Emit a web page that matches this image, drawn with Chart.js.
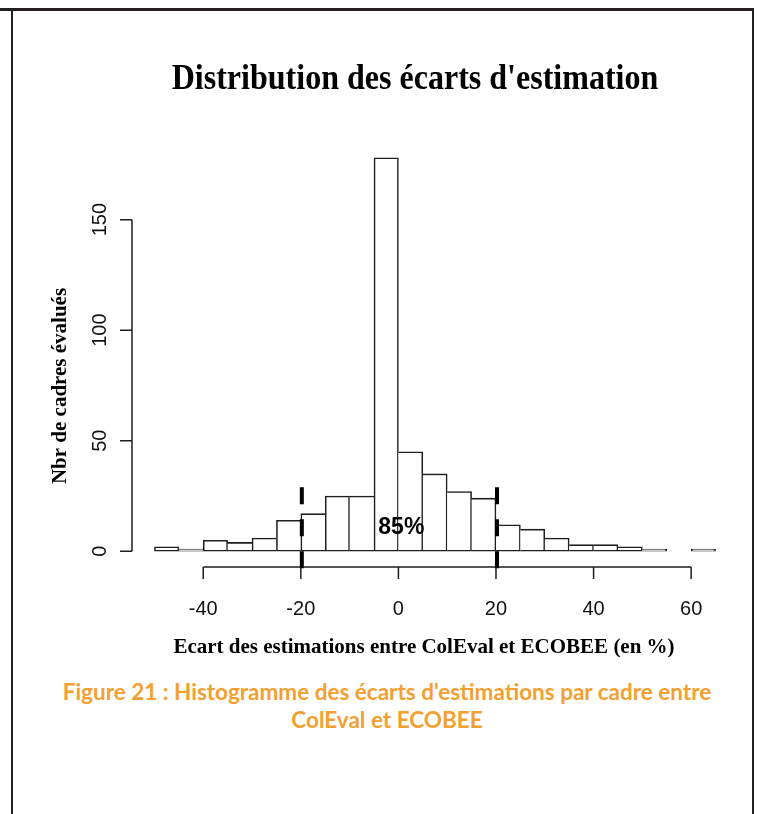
<!DOCTYPE html>
<html lang="fr">
<head>
  <meta charset="UTF-8">
  <title>Distribution des écarts d'estimation</title>
  <style>
    body {
      margin: 0;
      background: #fff;
      width: 757px;
      height: 814px;
      position: relative;
      overflow: hidden;
    }
    .frame { position: absolute; background: #231f20; }
    #frameTop { left: 0; top: 8px; width: 754px; height: 3px; }
    #frameLeft { left: 11px; top: 8px; width: 2px; height: 806px; }
    #frameRight { left: 752px; top: 8px; width: 2px; height: 806px; }
    #wrap { position: absolute; left: 0; top: 0; width: 757px; height: 670px; }
    #caption {
      position: absolute;
      left: 10px;
      width: 754px;
      top: 678px;
      text-align: center;
      font-family: Lato, "Open Sans", sans-serif;
      font-weight: bold;
      font-size: 22.5px;
      line-height: 28px;
      color: #f3a033;
    }
  </style>
</head>
<body>
  <div class="frame" id="frameTop"></div>
  <div class="frame" id="frameLeft"></div>
  <div class="frame" id="frameRight"></div>
  <div id="wrap"><canvas id="chart" width="757" height="670"></canvas></div>
  <div id="caption">Figure 21 : Histogramme des écarts d'estimations par cadre entre<br>ColEval et ECOBEE</div>

  <script src="https://cdn.jsdelivr.net/npm/chart.js"></script>
  <script>
    // histogram bins (width 5 %) and counts
    const breaks = [-50, -45, -40, -35, -30, -25, -20, -15, -10, -5, 0, 5, 10, 15, 20, 25, 30, 35, 40, 45, 50, 55, 60, 65];
    const counts = [2, 1, 5, 4, 6, 14, 17, 25, 25, 178, 45, 35, 27, 24, 12, 10, 6, 3, 3, 2, 1, 0, 1];
    const xTicks = [-40, -20, 0, 20, 40, 60];
    const yTicks = [0, 50, 100, 150];
    const cutoffs = [-20, 20];
    const shareText = '85%';

    const title = "Distribution des écarts d'estimation";
    const xTitle = 'Ecart des estimations entre ColEval et ECOBEE (en %)';
    const yTitle = 'Nbr de cadres évalués';

    const LINE = '#1e1e1e';
    const BW = 1.6;

    // R style axes, titles and the dashed +/-20% markers
    const rPlot = {
      id: 'rPlot',
      afterDraw(chart) {
        const c = chart.ctx;
        const area = chart.chartArea;
        const xs = chart.scales.x, ys = chart.scales.y;
        c.save();
        c.strokeStyle = LINE;
        c.fillStyle = '#000';
        c.lineWidth = 1.5;

        // x axis
        const ay = area.bottom;
        c.beginPath();
        c.moveTo(xs.getPixelForValue(xTicks[0]), ay);
        c.lineTo(xs.getPixelForValue(xTicks[xTicks.length - 1]), ay);
        xTicks.forEach(v => {
          const px = xs.getPixelForValue(v);
          c.moveTo(px, ay);
          c.lineTo(px, ay + 12);
        });
        c.stroke();
        c.fillStyle = '#111';
        c.font = '20px "Liberation Sans", Arial, sans-serif';
        c.textAlign = 'center';
        c.textBaseline = 'alphabetic';
        xTicks.forEach(v => c.fillText(String(v), xs.getPixelForValue(v), 615));

        // y axis
        const ax = area.left;
        c.beginPath();
        c.moveTo(ax, ys.getPixelForValue(yTicks[0]));
        c.lineTo(ax, ys.getPixelForValue(yTicks[yTicks.length - 1]));
        yTicks.forEach(v => {
          const py = ys.getPixelForValue(v);
          c.moveTo(ax, py);
          c.lineTo(ax - 12, py);
        });
        c.stroke();
        yTicks.forEach(v => {
          c.save();
          c.translate(106, ys.getPixelForValue(v));
          c.rotate(-Math.PI / 2);
          c.fillText(String(v), 0, 0);
          c.restore();
        });

        // titles
        c.fillStyle = '#000';
        c.save();
        c.translate(415, 89);
        c.scale(0.915, 1);
        c.font = 'bold 35px "Liberation Serif", "Times New Roman", serif';
        c.fillText(title, 0, 0);
        c.restore();
        c.font = 'bold 21px "Liberation Serif", "Times New Roman", serif';
        c.fillText(xTitle, 424, 653);
        c.save();
        c.translate(66, 386);
        c.rotate(-Math.PI / 2);
        c.fillText(yTitle, 0, 0);
        c.restore();

        // dashed cut-off lines
        c.strokeStyle = '#000';
        c.lineWidth = 4;
        c.setLineDash([17, 15]);
        cutoffs.forEach(v => {
          const px = xs.getPixelForValue(v) + 1;
          c.beginPath();
          c.moveTo(px, ys.getPixelForValue(29));
          c.lineTo(px, ys.getPixelForValue(-8.4));
          c.stroke();
        });
        c.setLineDash([]);

        // share of estimates inside +/-20%
        c.font = 'bold 23px "Liberation Sans", Arial, sans-serif';
        c.textBaseline = 'middle';
        c.fillText(shareText, xs.getPixelForValue(0.6), ys.getPixelForValue(10.5));
        c.restore();
      }
    };

    new Chart(document.getElementById('chart'), {
      type: 'bar',
      data: {
        datasets: [{
          data: counts.map((n, i) => ({ x: (breaks[i] + breaks[i + 1]) / 2, y: n })),
          backgroundColor: '#fff',
          borderColor: LINE,
          borderSkipped: false,
          borderWidth: ctx => {
            const i = ctx.dataIndex;
            const n = counts[i];
            return {
              top: BW,
              bottom: BW,
              left: (i === 0 || n > counts[i - 1]) ? BW : 0,
              right: (i === counts.length - 1 || n >= counts[i + 1]) ? BW : 0
            };
          },
          barPercentage: 1,
          categoryPercentage: 1
        }]
      },
      options: {
        responsive: false,
        animation: false,
        layout: { padding: { left: 132, right: 19, top: 142, bottom: 103 } },
        plugins: { legend: { display: false }, tooltip: { enabled: false } },
        scales: {
          x: { type: 'linear', min: -54.6, max: 69.6, offset: false, display: false },
          y: { min: -7.12, max: 185.12, display: false }
        }
      },
      plugins: [rPlot]
    });
  </script>
</body>
</html>
